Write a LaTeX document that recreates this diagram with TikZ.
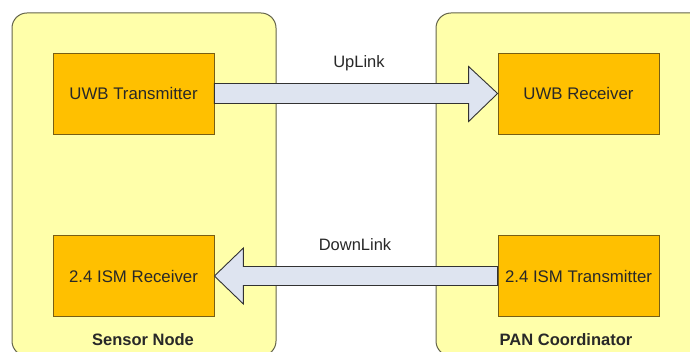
\documentclass[tikz,border=0pt]{standalone}
\usepackage{fontspec}
\setmainfont{Liberation Sans}
\usetikzlibrary{calc}
\definecolor{contfill}{RGB}{255,255,170}
\definecolor{contdraw}{RGB}{100,100,75}
\definecolor{boxfill}{RGB}{255,192,0}
\definecolor{boxdraw}{RGB}{120,95,20}
\definecolor{arrfill}{RGB}{222,228,240}
\definecolor{arrdraw}{RGB}{50,50,50}
\definecolor{txt}{RGB}{40,40,40}
\tikzset{
  container/.style={draw=contdraw, fill=contfill, line width=1pt, rounded corners=15pt},
  unit/.style={draw=boxdraw, fill=boxfill, line width=0.8pt, minimum width=161pt, minimum height=81pt, inner sep=0pt, text=txt, font=\fontsize{16.8}{18}\selectfont},
  bigarrow/.style={draw=arrdraw, fill=arrfill, line width=0.9pt, line join=miter},
  linklabel/.style={text=txt, font=\fontsize{16.5}{18}\selectfont},
  contlabel/.style={text=txt, font=\fontsize{16.5}{18}\selectfont\bfseries}
}
\begin{document}
\begin{tikzpicture}[x=1pt,y=-1pt]
\useasboundingbox (0,0) rectangle (690,352);
\clip (0,0) rectangle (690,352);
\fill[white] (0,0) rectangle (690,352);
% containers
\draw[container] (12,13) rectangle (276,356);
\draw[container] (436,13) rectangle (712,356);
% units
\node[unit] (utx) at (133.5,93.5) {UWB Transmitter};
\node[unit] (irx) at (133.5,276) {2.4 ISM Receiver};
\node[unit] (urx) at (578.5,93.5) {UWB Receiver};
\node[unit] (itx) at (578.5,276) {2.4 ISM Transmitter};
% uplink arrow
\draw[bigarrow] ($(utx.east)+(0,-10)$) -- ($(urx.west)+(-29,-10)$) -- ($(urx.west)+(-29,-27)$) -- (urx.west) -- ($(urx.west)+(-29,28)$) -- ($(urx.west)+(-29,10)$) -- ($(utx.east)+(0,10)$) -- cycle;
% downlink arrow
\draw[bigarrow] ($(itx.west)+(0,-9.5)$) -- ($(irx.east)+(29,-9.5)$) -- ($(irx.east)+(29,-28)$) -- (irx.east) -- ($(irx.east)+(29,28)$) -- ($(irx.east)+(29,9.5)$) -- ($(itx.west)+(0,9.5)$) -- cycle;
% labels
\node[linklabel] (up) at (359,63) {UpLink};
\node[linklabel] (down) at (355,245) {DownLink};
\node[contlabel] (sn) at (143,340) {Sensor Node};
\node[contlabel] (pan) at (566,340) {PAN Coordinator};
\end{tikzpicture}
\end{document}
